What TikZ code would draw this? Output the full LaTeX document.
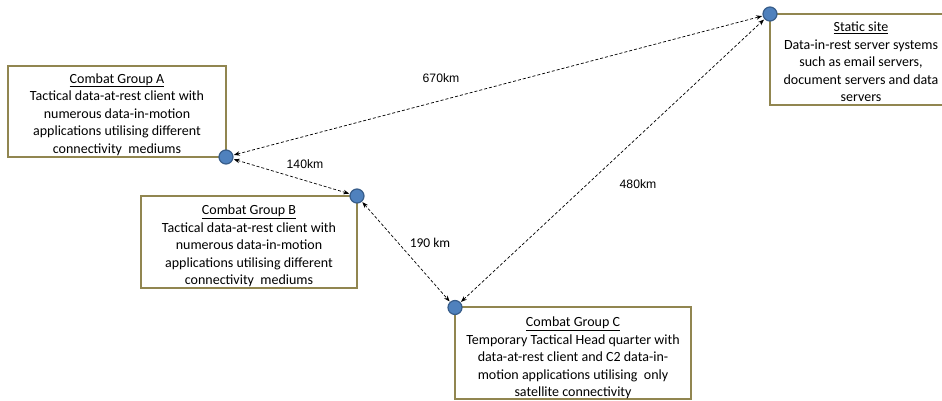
\documentclass[tikz,border=0pt]{standalone}
\usepackage{fontspec}
\setmainfont{Carlito}
\newfontfamily\arialf{Liberation Sans}
\usetikzlibrary{arrows.meta}
\definecolor{boxline}{RGB}{145,134,80}
\definecolor{dotfill}{RGB}{79,129,189}
\definecolor{dotline}{RGB}{56,93,138}
\tikzset{
  sitebox/.style={draw=boxline, line width=2.8pt, fill=white, rectangle, inner sep=0pt},
  sitetext/.style={align=center, font=\fontsize{14pt}{17.6pt}\selectfont, inner sep=0pt},
  dot/.style={circle, fill=dotfill, draw=dotline, line width=1.2pt, minimum size=14pt, inner sep=0pt},
  link/.style={densely dashed, line width=0.7pt, {Stealth[length=6pt,width=4.5pt]}-{Stealth[length=6pt,width=4.5pt]}, shorten <=0.5pt, shorten >=0.5pt},
  dist/.style={font=\arialf\fontsize{12.2pt}{13pt}\selectfont, inner sep=0pt},
}
\begin{document}
\begin{tikzpicture}[x=1pt,y=-1pt]
\useasboundingbox (0,0) rectangle (942,401);
% boxes
\node[sitebox, minimum width=218pt, minimum height=91pt] (boxA) at (117,111.5) {};
\node[sitebox, minimum width=216pt, minimum height=92pt] (boxB) at (249,242) {};
\node[sitebox, minimum width=236pt, minimum height=92pt] (boxC) at (573,353) {};
\node[sitebox, minimum width=184pt, minimum height=91pt] (boxS) at (862,59.5) {};
% texts
\node[sitetext] (tA) at (117,114.5) {\underline{Combat Group A}\\Tactical data-at-rest client with\\numerous data-in-motion\\applications utilising different\\connectivity\ \ mediums};
\node[sitetext] (tB) at (249,246) {\underline{Combat Group B}\\Tactical data-at-rest client with\\numerous data-in-motion\\applications utilising different\\connectivity\ \ mediums};
\node[sitetext] (tC) at (573,358) {\underline{Combat Group C}\\Temporary Tactical Head quarter with\\data-at-rest client and C2 data-in-\\motion applications utilising\ \ only\\satellite connectivity};
\node[sitetext] (tS) at (861,62) {\underline{Static site}\\Data-in-rest server systems\\such as email servers,\\document servers and data\\servers};
% dots
\node[dot] (dA) at (226,157) {};
\node[dot] (dB) at (357,196) {};
\node[dot] (dC) at (455,307.5) {};
\node[dot] (dS) at (770,14) {};
% links
\draw[link] (dA) -- (dS);
\draw[link] (dA) -- (dB);
\draw[link] (dB) -- (dC);
\draw[link] (dC) -- (dS);
% distances
\node[dist] (l670) at (441,78) {670km};
\node[dist] (l140) at (305,164.5) {140km};
\node[dist, font=\fontsize{13.5pt}{14pt}\selectfont] (l190) at (430,243) {190 km};
\node[dist] (l480) at (638,184) {480km};
\end{tikzpicture}
\end{document}
